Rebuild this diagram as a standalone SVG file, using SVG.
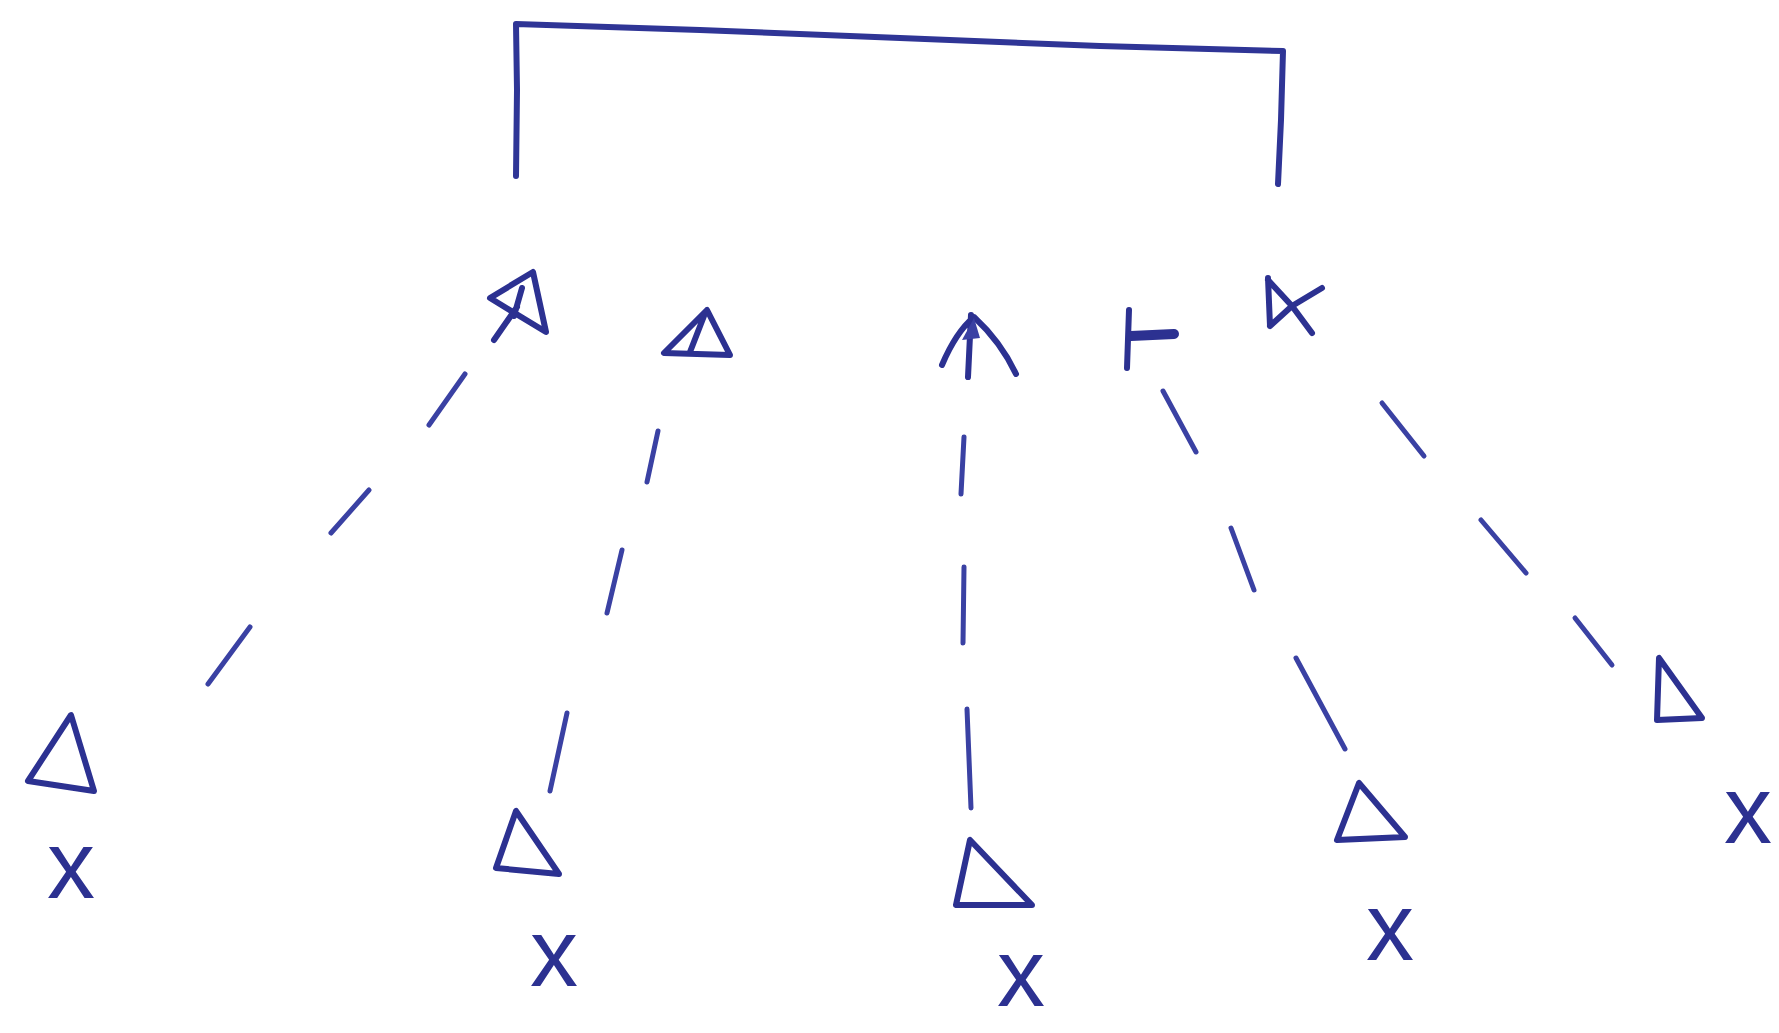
<svg xmlns="http://www.w3.org/2000/svg" width="1779" height="1033" viewBox="0 0 1779 1033">
<style>
.ink{fill:none;stroke:#2c3191;stroke-width:6;stroke-linecap:round;stroke-linejoin:round}
.dash{fill:none;stroke:#3a41a3;stroke-width:5;stroke-linecap:round}
.br{fill:none;stroke:#2f3596;stroke-width:6;stroke-linecap:round;stroke-linejoin:round}
.x{font-family:"Liberation Sans",Arial,sans-serif;font-size:96px;fill:#2c3191;text-anchor:middle}
</style>
<rect width="1779" height="1033" fill="#ffffff"/>
<g id="connectors">
<path class="br" d="M516,176 L517,90 L516,24 L700,30 L900,38 L1100,46 L1283,51 L1281,120 L1278,184"/>
<path class="dash" d="M465,374 L429,425"/>
<path class="dash" d="M369,490 L331,533"/>
<path class="dash" d="M250,627 L208,684"/>
<path class="dash" d="M658,431 L647,482"/>
<path class="dash" d="M622,550 L607,613"/>
<path class="dash" d="M567,713 L550,791"/>
<path class="dash" d="M964,437 L961,494"/>
<path class="dash" d="M964,567 L963,643"/>
<path class="dash" d="M967,709 L971,808"/>
<path class="dash" d="M1163,391 L1196,452"/>
<path class="dash" d="M1231,528 L1254,590"/>
<path class="dash" d="M1296,658 L1345,749"/>
<path class="dash" d="M1382,403 L1424,456"/>
<path class="dash" d="M1481,520 L1526,573"/>
<path class="dash" d="M1575,618 L1612,665"/>
</g>
<g id="s1">
<path class="ink" d="M533,272 L546,332 L490,298 Z M517,307 L494,340 M522,288 L514,316"/>
</g>
<g id="s2">
<path class="ink" d="M707,310 L664,353 L730,355 Z M704,316 L690,352"/>
</g>
<g id="s3">
<path class="ink" d="M942,365 Q956,332 974,317 Q1001,342 1016,374 M971,315 L968,377"/>
<path d="M974,318 L962,340 L980,338 Z" fill="#3a41a3"/>
</g>
<g id="s4">
<path class="ink" d="M1129,310 L1127,368"/>
<path class="ink" style="stroke-width:10" d="M1131,336 L1174,334"/>
</g>
<g id="s5">
<path class="ink" d="M1268,278 L1270,326 M1268,280 L1292,306 L1322,288 M1270,326 L1292,306 L1312,333"/>
</g>
<g id="t1">
<path class="ink" d="M71,715 L28,781 L94,791 Z"/>
<text class="x" x="71" y="898">x</text>
</g>
<g id="t2">
<path class="ink" d="M516,811 L496,868 L559,874 Z"/>
<text class="x" x="554" y="986">x</text>
</g>
<g id="t3">
<path class="ink" d="M970,840 L956,905 L1032,905 Z"/>
<text class="x" x="1021" y="1006">x</text>
</g>
<g id="t4">
<path class="ink" d="M1359,783 L1337,840 L1405,837 Z"/>
<text class="x" x="1390" y="960">x</text>
</g>
<g id="t5">
<path class="ink" d="M1659,658 L1657,720 L1702,718 Z"/>
<text class="x" x="1748" y="843">x</text>
</g>
</svg>
